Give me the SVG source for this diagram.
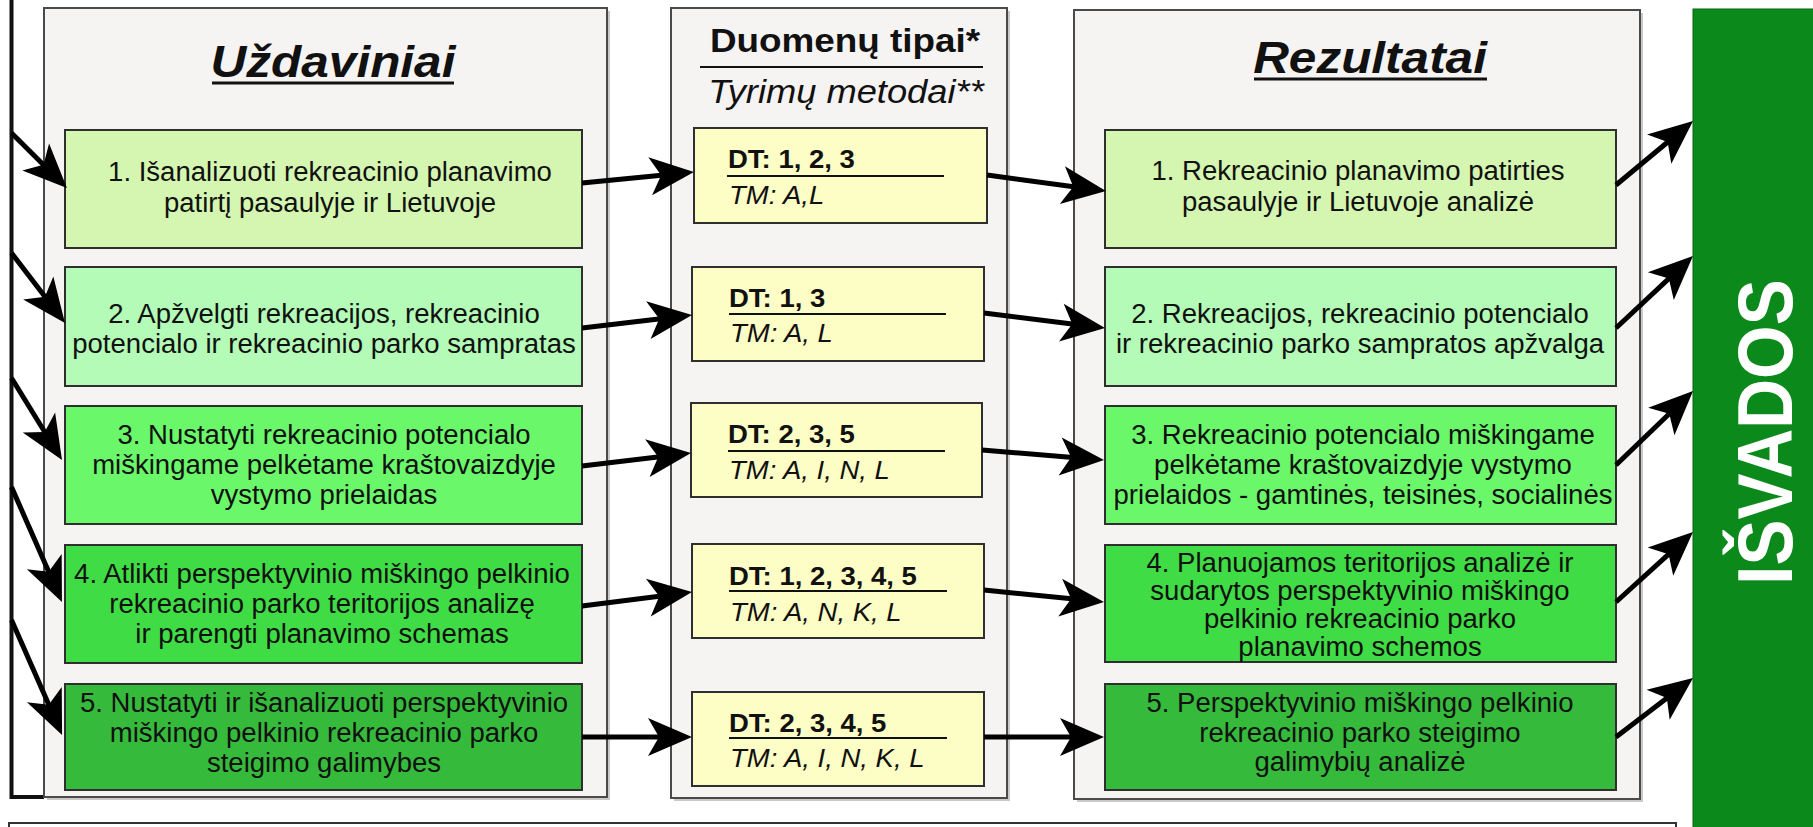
<svg xmlns="http://www.w3.org/2000/svg" width="1813" height="827" viewBox="0 0 1813 827">
<defs>
<style>
.panel{fill:#f6f3f3;stroke:#4a4a4a;stroke-width:2}
.shadow{fill:#c9c9c9}
.box{stroke:#2f2f2f;stroke-width:2}
.c1{fill:#d4f6b0}
.c2{fill:#b3fbb6}
.c3{fill:#6af76a}
.c4{fill:#40dc45}
.c5{fill:#36ba3c}
.dt{fill:#fdfdc6}
.t{font-family:'Liberation Sans',Arial,sans-serif;font-size:27px;fill:#111;text-anchor:middle}
.dtb{font-family:'Liberation Sans',Arial,sans-serif;font-size:25px;font-weight:bold;fill:#111}
.tmi{font-family:'Liberation Sans',Arial,sans-serif;font-size:25px;font-style:italic;fill:#111}
.title{font-family:'Liberation Sans',Arial,sans-serif;font-size:45px;font-weight:bold;font-style:italic;fill:#111;text-anchor:middle}
.rule{stroke:#111;stroke-width:2}
.conn{fill:none;stroke:#000;stroke-width:5;marker-end:url(#ah)}
</style>
<marker id="ah" viewBox="-46 -21 48 42" markerWidth="48" markerHeight="42" refX="-25" refY="0" markerUnits="userSpaceOnUse" orient="auto">
<path d="M0,0 L-44,-19 L-33,0 L-44,19 Z" fill="#000"/>
</marker>
</defs>
<rect x="0" y="0" width="1813" height="827" fill="#ffffff"/>

<g id="frame">
<path d="M11.5,0 V797 H44" fill="none" stroke="#111" stroke-width="4"/>
<rect x="9" y="823" width="1667" height="20" fill="#ffffff" stroke="#333" stroke-width="2"/>
</g>

<g id="panel-uzdaviniai">
<rect class="shadow" x="47" y="11" width="563" height="789"/>
<rect class="panel" x="44" y="8" width="563" height="789"/>
<text class="title" transform="matrix(1.1 0 0 1 333 0)" x="0" y="77">Uždaviniai</text>
<line x1="212" y1="83" x2="454" y2="83" stroke="#111" stroke-width="3"/>
</g>

<g id="panel-duomenys">
<rect class="shadow" x="674" y="11" width="336" height="790"/>
<rect class="panel" x="671" y="8" width="336" height="790"/>
<text transform="matrix(1.1 0 0 1 845 0)" x="0" y="52" style="font-family:'Liberation Sans',Arial,sans-serif;font-size:33.5px;font-weight:bold;fill:#111;text-anchor:middle">Duomenų tipai*</text>
<line class="rule" x1="700" y1="67" x2="983" y2="67"/>
<text transform="matrix(1.1 0 0 1 846 0)" x="0" y="103" style="font-family:'Liberation Sans',Arial,sans-serif;font-size:33px;font-style:italic;fill:#111;text-anchor:middle">Tyrimų metodai**</text>
</g>

<g id="panel-rezultatai">
<rect class="shadow" x="1077" y="13" width="566" height="789"/>
<rect class="panel" x="1074" y="10" width="566" height="789"/>
<text class="title" transform="matrix(1.1 0 0 1 1370 0)" x="0" y="73">Rezultatai</text>
<line x1="1254" y1="79" x2="1487" y2="79" stroke="#111" stroke-width="3"/>
</g>

<g id="isvados">
<rect x="1693" y="9" width="122" height="830" fill="#0b8a1b" stroke="#06640f" stroke-width="1"/>
<text transform="translate(1765 432) scale(1.12 1) rotate(-90)" x="0" y="24" style="font-family:'Liberation Sans',Arial,sans-serif;font-size:69px;font-weight:bold;fill:#ffffff;text-anchor:middle">IŠVADOS</text>
</g>

<g id="task-1">
<rect class="box c1" x="65" y="130" width="517" height="118"/>
<text class="t" transform="matrix(1.02 0 0 1 330 0)"><tspan x="0" y="181">1. Išanalizuoti rekreacinio planavimo</tspan><tspan x="0" y="212">patirtį pasaulyje ir Lietuvoje</tspan></text>
</g>
<g id="task-2">
<rect class="box c2" x="65" y="267" width="517" height="119"/>
<text class="t" transform="matrix(1.02 0 0 1 324 0)"><tspan x="0" y="323">2. Apžvelgti rekreacijos, rekreacinio</tspan><tspan x="0" y="353">potencialo ir rekreacinio parko sampratas</tspan></text>
</g>
<g id="task-3">
<rect class="box c3" x="65" y="406" width="517" height="118"/>
<text class="t" transform="matrix(1.02 0 0 1 324 0)"><tspan x="0" y="444">3. Nustatyti rekreacinio potencialo</tspan><tspan x="0" y="474">miškingame pelkėtame kraštovaizdyje</tspan><tspan x="0" y="504">vystymo prielaidas</tspan></text>
</g>
<g id="task-4">
<rect class="box c4" x="65" y="545" width="517" height="118"/>
<text class="t" transform="matrix(1.02 0 0 1 322 0)"><tspan x="0" y="583">4. Atlikti perspektyvinio miškingo pelkinio</tspan><tspan x="0" y="613">rekreacinio parko teritorijos analizę</tspan><tspan x="0" y="643">ir parengti planavimo schemas</tspan></text>
</g>
<g id="task-5">
<rect class="box c5" x="65" y="684" width="517" height="106"/>
<text class="t" transform="matrix(1.02 0 0 1 324 0)"><tspan x="0" y="712">5. Nustatyti ir išanalizuoti perspektyvinio</tspan><tspan x="0" y="742">miškingo pelkinio rekreacinio parko</tspan><tspan x="0" y="772">steigimo galimybes</tspan></text>
</g>

<g id="dt-1">
<rect class="box dt" x="694" y="128" width="293" height="95"/>
<text class="dtb" transform="matrix(1.1 0 0 1 728 0)" x="0" y="168">DT: 1, 2, 3</text>
<line class="rule" x1="727" y1="176" x2="944" y2="176"/>
<text class="tmi" transform="matrix(1.1 0 0 1 729 0)" x="0" y="204">TM: A,L</text>
</g>
<g id="dt-2">
<rect class="box dt" x="692" y="267" width="292" height="94"/>
<text class="dtb" transform="matrix(1.1 0 0 1 729 0)" x="0" y="307">DT: 1, 3</text>
<line class="rule" x1="729" y1="314" x2="946" y2="314"/>
<text class="tmi" transform="matrix(1.1 0 0 1 730 0)" x="0" y="342">TM: A, L</text>
</g>
<g id="dt-3">
<rect class="box dt" x="691" y="403" width="291" height="94"/>
<text class="dtb" transform="matrix(1.1 0 0 1 728 0)" x="0" y="443">DT: 2, 3, 5</text>
<line class="rule" x1="728" y1="451" x2="945" y2="451"/>
<text class="tmi" transform="matrix(1.1 0 0 1 729 0)" x="0" y="479">TM: A, I, N, L</text>
</g>
<g id="dt-4">
<rect class="box dt" x="692" y="544" width="292" height="94"/>
<text class="dtb" transform="matrix(1.1 0 0 1 729 0)" x="0" y="585">DT: 1, 2, 3, 4, 5</text>
<line class="rule" x1="729" y1="591" x2="947" y2="591"/>
<text class="tmi" transform="matrix(1.1 0 0 1 730 0)" x="0" y="621">TM: A, N, K, L</text>
</g>
<g id="dt-5">
<rect class="box dt" x="692" y="692" width="292" height="94"/>
<text class="dtb" transform="matrix(1.1 0 0 1 729 0)" x="0" y="732">DT: 2, 3, 4, 5</text>
<line class="rule" x1="729" y1="738" x2="947" y2="738"/>
<text class="tmi" transform="matrix(1.1 0 0 1 730 0)" x="0" y="767">TM: A, I, N, K, L</text>
</g>

<g id="result-1">
<rect class="box c1" x="1105" y="130" width="511" height="118"/>
<text class="t" transform="matrix(1.02 0 0 1 1358 0)"><tspan x="0" y="180">1. Rekreacinio planavimo patirties</tspan><tspan x="0" y="211">pasaulyje ir Lietuvoje analizė</tspan></text>
</g>
<g id="result-2">
<rect class="box c2" x="1105" y="267" width="511" height="119"/>
<text class="t" transform="matrix(1.02 0 0 1 1360 0)"><tspan x="0" y="323">2. Rekreacijos, rekreacinio potencialo</tspan><tspan x="0" y="353">ir rekreacinio parko sampratos apžvalga</tspan></text>
</g>
<g id="result-3">
<rect class="box c3" x="1105" y="406" width="511" height="118"/>
<text class="t" transform="matrix(1.02 0 0 1 1363 0)"><tspan x="0" y="444">3. Rekreacinio potencialo miškingame</tspan><tspan x="0" y="474">pelkėtame kraštovaizdyje vystymo</tspan><tspan x="0" y="504">prielaidos - gamtinės, teisinės, socialinės</tspan></text>
</g>
<g id="result-4">
<rect class="box c4" x="1105" y="545" width="511" height="117"/>
<text class="t" transform="matrix(1.02 0 0 1 1360 0)"><tspan x="0" y="572">4. Planuojamos teritorijos analizė ir</tspan><tspan x="0" y="600">sudarytos perspektyvinio miškingo</tspan><tspan x="0" y="628">pelkinio rekreacinio parko</tspan><tspan x="0" y="656">planavimo schemos</tspan></text>
</g>
<g id="result-5">
<rect class="box c5" x="1105" y="684" width="511" height="106"/>
<text class="t" transform="matrix(1.02 0 0 1 1360 0)"><tspan x="0" y="712">5. Perspektyvinio miškingo pelkinio</tspan><tspan x="0" y="742">rekreacinio parko steigimo</tspan><tspan x="0" y="771">galimybių analizė</tspan></text>
</g>

<g id="connectors">
<path class="conn" d="M11.5,133 L49.2,170.4"/>
<path class="conn" d="M11.5,253 L49.8,303.1"/>
<path class="conn" d="M11.5,378 L48.9,438.7"/>
<path class="conn" d="M11.5,487 L51.9,579.1"/>
<path class="conn" d="M11.5,620 L52,712.1"/>
<path class="conn" d="M582,183 L669.1,174.4"/>
<path class="conn" d="M582,328 L667.2,317.9"/>
<path class="conn" d="M582,466 L666.2,456"/>
<path class="conn" d="M582,606 L667.2,595.2"/>
<path class="conn" d="M582,737 L667,737"/>
<path class="conn" d="M987,175 L1081.2,187.7"/>
<path class="conn" d="M984,313 L1080.2,324.9"/>
<path class="conn" d="M982,450 L1079.1,458"/>
<path class="conn" d="M984,590 L1079.1,599.5"/>
<path class="conn" d="M984,737 L1079,737"/>
<path class="conn" d="M1616,185 L1673.8,137"/>
<path class="conn" d="M1616,328 L1674.7,273.1"/>
<path class="conn" d="M1616,465 L1675,408.3"/>
<path class="conn" d="M1616,602 L1674.5,548.8"/>
<path class="conn" d="M1616,737 L1673.2,693.2"/>
</g>
</svg>
